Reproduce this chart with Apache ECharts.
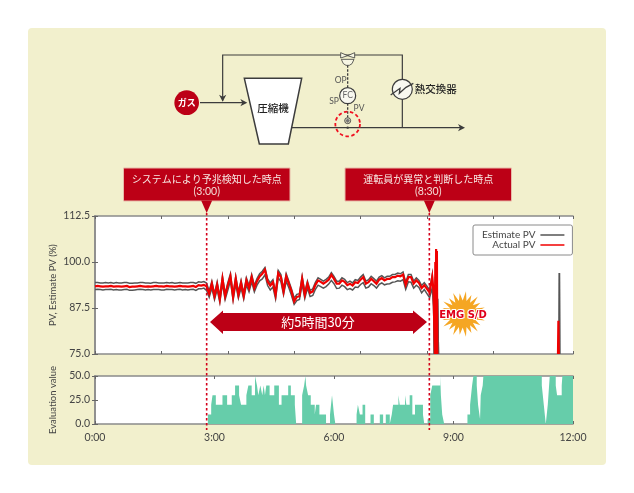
<!DOCTYPE html>
<html><head><meta charset="utf-8">
<style>html,body{margin:0;padding:0;background:#fff}
#panel{position:absolute;left:28px;top:28px;width:578px;height:437px;background:#f2f0cd;border-radius:4px}
#c{position:absolute;left:0;top:0;width:634px;height:493px}</style>
<script src="https://cdn.jsdelivr.net/npm/echarts@6/dist/echarts.min.js"></script>
</head><body><div id="panel"></div><div id="c"></div>
<script>
const pvStep = 4;
const actualPV = [93.4,93.5,93.4,93.3,93.4,93.4,93.5,93.3,93.4,93.4,93.3,93.4,93.5,93.2,93.3,93.3,93.4,93.5,93.4,93.3,93.4,93.3,93.4,93.5,93.4,93.4,93.3,93.5,93.4,93.4,93.3,93.4,93.5,93.4,93.4,93.3,93.4,93.5,93.2,93.7,93.6,93.8,
93.4,91.4,94.1,90.7,93.8,89.9,95.4,90.7,93.6,96.1,90.5,95.4,91.1,94.3,90.8,95,92.9,95.9,92.9,94.8,96.1,96.8,97.9,94.7,93.6,94.5,91.1,97,95.9,92,96.1,94.1,92,89.3,90.5,90.7,95.4,91.1,94.1,91.6,92,93.8,95,94.6,94.1,94.6,95.2,96.5,95.4,94.1,94.1,95,94.6,93.7,94.1,93.6,94.5,94.3,95.2,95.9,94.1,94.5,95.4,94.8,94.1,95.2,95.6,95,95.4,95.4,95.9,95.9,96.3,96.1,96.6,93.8,95.9,95.9,94.1,95,94.3,92.9,93.7,92.7,91.7,95.9];
const estimateLow = [92.5,92.6,92.5,92.4,92.5,92.5,92.6,92.4,92.5,92.4,92.4,92.5,92.6,92.3,92.3,92.4,92.5,92.6,92.5,92.4,92.5,92.4,92.5,92.5,92.5,92.4,92.4,92.6,92.5,92.5,92.4,92.5,92.6,92.4,92.5,92.4,92.5,92.6,92.3,92.7,92.7,92.9,
92.3,90.4,92.9,89.8,92.5,89.0,94.1,89.8,92.3,94.9,89.6,94.0,90.2,93.0,89.9,93.8,91.9,94.6,91.9,93.7,94.9,95.4,96.5,93.6,92.4,93.2,90.0,95.7,94.7,91.1,94.8,93.0,90.9,88.5,89.5,89.8,94.0,90.1,92.9,90.6,90.9,92.6,93.7,93.3,92.9,93.3,94.0,95.0,94.1,92.8,92.9,93.7,93.3,92.5,92.8,92.4,93.2,93.1,93.9,94.4,92.9,93.2,94.1,93.6,92.9,93.9,94.3,93.8,94.0,94.1,94.5,94.6,94.9,94.8,95.2,92.6,94.6,94.5,92.9,93.7,93.1,91.6,92.5,91.4,90.3,93.0];
const estimateHigh = [94.4,94.4,94.3,94.3,94.4,94.3,94.4,94.2,94.4,94.3,94.3,94.4,94.4,94.2,94.2,94.3,94.3,94.4,94.4,94.3,94.3,94.2,94.4,94.4,94.3,94.3,94.3,94.4,94.3,94.4,94.2,94.3,94.4,94.3,94.3,94.3,94.4,94.4,94.2,94.6,94.5,94.7,
94.3,92.1,94.8,91.4,94.6,90.6,96.1,91.4,94.3,96.8,91.2,96.1,91.8,95.0,91.5,95.7,93.6,96.6,93.6,95.5,96.8,97.5,98.5,95.4,94.3,95.2,91.8,97.7,96.6,92.7,96.8,94.8,92.7,90.2,91.2,91.4,96.1,91.8,94.8,92.3,92.7,94.5,95.7,95.3,94.8,95.3,95.9,97.1,96.1,94.8,94.8,95.7,95.3,94.4,94.8,94.3,95.2,95.0,95.9,96.6,94.8,95.2,96.1,95.5,94.8,95.9,96.3,95.7,96.1,96.1,96.6,96.6,97.0,96.8,97.3,94.5,96.6,96.6,94.8,95.7,95.0,93.6,94.4,93.4,92.4,96.6];
const actualTailTimes = [510,512,512.6,513.2,513.8,514.4,515,515.6,516,697.4,698,698.6,699];
const actualTailValues = [92,75,100,75,103.5,75,103,75,null,75,84,75,null];
const estimateTailTimes = [510,511,513,514,516,517.4,518,699,699.5,700,701];
const estimateTailValues = [88,75,96,75,90,75,null,75,97,75,null];
const evalTimes = [0,170,175,177,182,192,199,206,211,217,220,228,231,236,241,244,246,249,252,254,256,258,263,270,277,281,291,295,301,303,312,315,317,318,321,325,331,333,338,348,354,357,360,362,394,396,399,403,407,415,420,429,434,438,444,447,449,457,459,467,469,474,478,482,494,496,501,505,508,520,521,523,526,561,565,568,570,575,577,580,581,584,585,673,676,679,682,684,685,694,696,703,704,720];
const evalValues = [0,10,20,30,20,30,20,30,40,30,20,30,40,30,50,40,30,40,30,40,30,40,30,40,20,30,40,30,20,0,30,40,50,40,30,20,10,20,10,0,10,30,10,0,10,20,10,20,0,10,0,10,0,10,0,10,20,30,20,30,20,30,10,20,10,0,5,30,40,50,30,10,0,10,20,40,50,40,20,5,30,40,50,40,20,0,20,40,50,40,30,40,50,50];
const timeLabels = ['0:00','3:00','6:00','9:00','12:00'];
const markerTimes = [168.2,503.6];

const pairs = (t, v) => t.map((x, i) => [x, v[i]]);
const regular = v => v.map((y, i) => [i * pvStep, y]);
const stepped = (t, v) => { const out = []; t.forEach((x, i) => { out.push([x, v[i]]); if (i + 1 < t.length) out.push([t[i + 1], v[i]]); }); return out; };
const ink = '#3c3c3c', crimson = '#bc0016', axisGray = '#8a8a8a', txt = '#444';
const font = 'Lato, "Noto Sans CJK JP", sans-serif';
const jp = '"Noto Sans CJK JP", sans-serif';

const chart = echarts.init(document.getElementById('c'), null, {renderer:'canvas'});
const lineAx = {lineStyle:{color:axisGray,width:1.5}};
const tick = {inside:true,length:3,lineStyle:{color:'#666',width:1}};
const xBase = (grid, interval, labels, pos) => ({
  type:'value',gridIndex:grid,min:0,max:720,interval,position:pos,
  axisLine:{show:true,onZero:false,...lineAx},axisTick:tick,splitLine:{show:false},
  axisLabel:labels?{show:true,color:txt,fontSize:10.5,fontFamily:font,margin:8,hideOverlap:false,showMinLabel:true,showMaxLabel:true,
    formatter:v=>timeLabels[v/180]}:{show:false}
});
const yBase = (grid,min,max,interval,name,pos,gap) => ({
  type:'value',gridIndex:grid,min,max,interval,position:pos,
  name,nameLocation:'middle',nameGap:gap,nameMoveOverlap:false,nameTextStyle:{color:txt,fontSize:9.5,fontFamily:font},
  axisLine:{show:true,...lineAx},axisTick:tick,splitLine:{show:false},
  axisLabel:pos==='left'?{show:true,color:txt,fontSize:10.5,fontFamily:font,margin:5,formatter:v=>v.toFixed(1),showMinLabel:true,showMaxLabel:true}:{show:false}
});
const line = (name,data,color,width,z) => ({
  type:'line',name,data,xAxisIndex:0,yAxisIndex:0,showSymbol:false,symbol:'none',
  connectNulls:false,lineStyle:{color,width,join:'miter'},itemStyle:{color},z,silent:true
});

chart.setOption({
  animation:false,
  backgroundColor:'transparent',
  grid:[
    {left:95,right:61,top:216,height:138,show:true,backgroundColor:'#fff',borderWidth:0},
    {left:95,right:61,top:376,height:48,show:true,backgroundColor:'#fff',borderWidth:0}
  ],
  xAxis:[xBase(0,100,false,'bottom'),xBase(0,100,false,'top'),xBase(1,180,true,'bottom'),xBase(1,180,false,'top')],
  yAxis:[
    yBase(0,75,112.5,12.5,'PV, Estimate PV (%)','left',37),
    yBase(0,75,112.5,12.5,'','right',0),
    yBase(1,0,50,25,'Evaluation value','left',37),
    yBase(1,0,50,25,'','right',0)
  ],
  legend:{left:473,top:225,orient:'vertical',align:'right',icon:'rect',itemWidth:24,itemHeight:1.5,itemGap:0,
    padding:[5,8,5,9],borderColor:'#8a8a8a',borderWidth:1,borderRadius:2,backgroundColor:'#fff',
    textStyle:{color:txt,fontSize:10,lineHeight:10,fontFamily:font},
    data:['Estimate PV','Actual PV'],selectedMode:false},
  series:[
    line('Estimate PV',regular(estimateLow).concat(pairs(estimateTailTimes,estimateTailValues)),'#555',1.5,2),
    line('Estimate PV',regular(estimateHigh).concat(pairs(estimateTailTimes,estimateTailValues)),'#555',1.5,2),
    line('Actual PV',regular(actualPV).concat(pairs(actualTailTimes,actualTailValues)),'#f00000',2.2,3),
    {type:'line',name:'Evaluation value',xAxisIndex:2,yAxisIndex:2,data:stepped(evalTimes,evalValues),
     showSymbol:false,symbol:'none',lineStyle:{width:0},areaStyle:{color:'#66cdaa',opacity:1},silent:true}
  ]
});

const P = (zx,zy) => [150+zx/3, 30+zy/3];
const pl = (pts,extra={},z=20) => ({type:'polyline',shape:{points:pts.map(p=>P(p[0],p[1]))},style:{stroke:ink,lineWidth:1.2,fill:null,...extra},z});
const head = (zx,zy,dir) => {
  const s = 7, w = 3.6, [x,y] = P(zx,zy);
  const pts = dir==='r' ? [[x,y],[x-s,y-w],[x-s+2,y],[x-s,y+w]] : [[x,y],[x-w,y-s],[x,y-s+2],[x+w,y-s]];
  return {type:'polygon',shape:{points:pts},style:{fill:ink},z:21};
};
const circ = (zx,zy,zr,style) => {const [cx,cy]=P(zx,zy);return {type:'circle',shape:{cx,cy,r:zr/3},style,z:22};};
const label = (text,x,y,size,color,extra={}) => ({type:'text',x,y,z:40,style:{text,fill:color,fontSize:size,fontFamily:extra.fontFamily||jp,align:'center',verticalAlign:'middle',...extra}});
const zt = (text,zx,zy,size,color,extra) => {const [x,y]=P(zx,zy);return label(text,x,y,size,color,extra);};

const toX = t => chart.convertToPixel({xAxisIndex:0},t);
const mx = markerTimes.map(toX);

const callout = (x0,x1,tip,l1,l2) => [
  {type:'rect',shape:{x:x0,y:168,width:x1-x0,height:33},style:{fill:crimson,stroke:'#e8b9a8',lineWidth:1},z:30},
  {type:'polygon',shape:{points:[[tip-5.5,200.5],[tip+5.5,200.5],[tip,213]]},style:{fill:crimson},z:31},
  label(l1,(x0+x1)/2,179.5,10,'#f8e8e4',{fontWeight:400}),
  label(l2,(x0+x1)/2,192,10.5,'#f3dcd6',{fontFamily:font})
];

const burst = [];
for (let i=0;i<44;i++){const a=i/44*2*Math.PI,r=i%2?13.5:(i%4?23:21);burst.push([462.7+r*Math.cos(a),314+r*Math.sin(a)]);}

chart.setOption({graphic:{elements:[
  pl([[150,218],[285,218]]),head(292,218,'r'),
  pl([[218,212],[218,75],[757,75],[757,293]]),head(218,215,'d'),
  pl([[420,293],[938,293]]),head(945,293,'r'),
  {type:'polygon',shape:{points:[P(283,145),P(455,145),P(415,342),P(328,342)]},style:{fill:'#fff',stroke:ink,lineWidth:1.5},z:23},
  zt('圧縮機',369,235,10.5,'#222',{fontWeight:500}),
  circ(110,218,37,{fill:crimson}),
  zt('ガス',110,218,9,'#fff',{fontWeight:700}),
  {type:'polygon',shape:{points:[P(572,68),P(593,77),P(614,68),P(614,84),P(593,77),P(572,84)]},style:{fill:'#f7f6e4',stroke:ink,lineWidth:0.8},z:24},
  {type:'polygon',shape:{points:[P(574,88),P(612,88),P(606,101),P(598,106),P(588,106),P(580,101)]},style:{fill:'#f7f6e4',stroke:ink,lineWidth:0.8},z:24},
  pl([[593,106],[593,172]],{lineDash:[2.5,1.5],lineWidth:1.3}),
  pl([[593,220],[593,262]],{lineDash:[2.5,1.5],lineWidth:1.3}),
  circ(593,197,24,{fill:'#f8f8f0',stroke:ink,lineWidth:1.2}),
  zt('FC',593,197,8.5,'#666',{fontFamily:font}),
  zt('OP',572,150,8.5,'#555',{fontFamily:font}),
  zt('SP',552,215,8.5,'#555',{fontFamily:font}),
  zt('PV',627,235,8.5,'#555',{fontFamily:font}),
  circ(593,272,9,{fill:'#f2f0cd',stroke:ink,lineWidth:0.9}),
  {type:'polygon',shape:{points:[P(593,265),P(600,272),P(593,279),P(586,272)]},style:{fill:'#777'},z:25},
  circ(593,293,3.5,{fill:ink}),
  circ(593,282,37,{fill:null,stroke:'#f01020',lineWidth:1.8,lineDash:[3.5,2.5]}),
  circ(757,178,30,{fill:'#f8f8f0',stroke:ink,lineWidth:1.2}),
  pl([[722,195],[750,175],[748,190],[768,172],[790,160]],{lineWidth:1.3},24),
  zt('熱交換器',857,178,10.5,'#222',{fontWeight:500}),

  ...callout(123.5,290,mx[0],'システムにより予兆検知した時点','(3:00)'),
  ...callout(345,511.5,mx[1],'運転員が異常と判断した時点','(8:30)'),

  ...mx.map(x=>({type:'line',shape:{x1:x,y1:213,x2:x,y2:430},style:{stroke:'#d4001a',lineWidth:1.6,lineDash:[2.5,2.5]},z:35})),

  {type:'polygon',shape:{points:[[210,322],[223,310.5],[223,313],[413,313],[413,310.5],[427,322],[413,334],[413,331],[223,331],[223,334]]},style:{fill:crimson},z:32},
  label('約5時間30分',318,322,13,'#fff',{fontWeight:400}),

  {type:'polygon',shape:{points:burst},style:{fill:'#f5a623'},z:33},
  label('EMG S/D',463,315.5,10,'#e0001a',{fontWeight:900,fontFamily:'"DejaVu Sans", sans-serif',stroke:'#fff',lineWidth:2.2})
]}});
</script></body></html>
